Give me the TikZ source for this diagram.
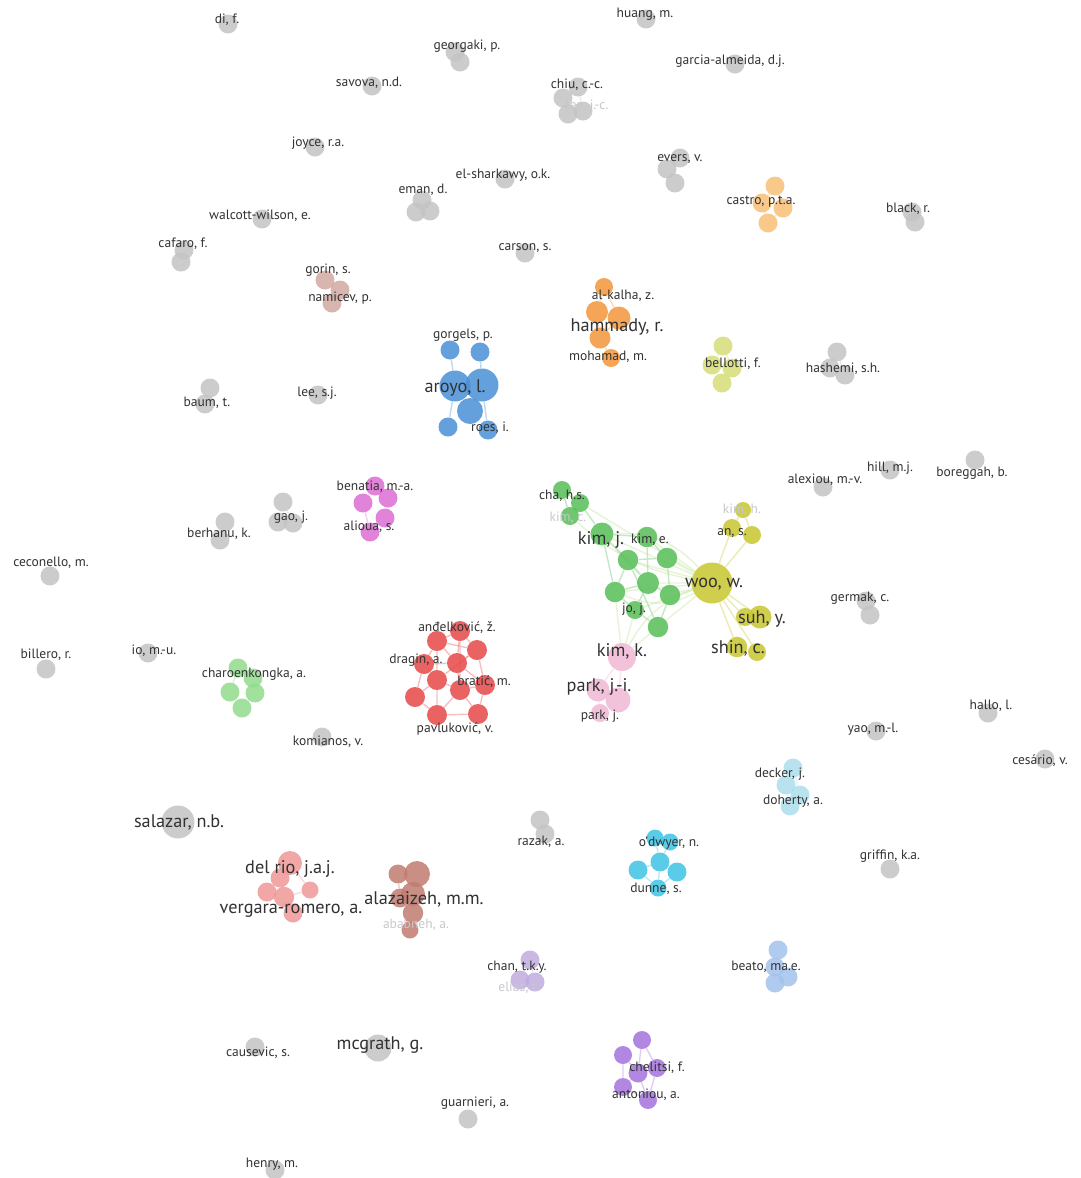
\documentclass[tikz,border=0pt]{standalone}
\usepackage{fontspec}
\setmainfont{PT Sans}
\usepackage{tikz}
\usetikzlibrary{backgrounds}
\definecolor{NodeGray}{RGB}{196,196,196}
\definecolor{LabelDark}{RGB}{50,50,50}
\definecolor{LabelFaint}{RGB}{200,200,205}
\definecolor{ArBlue}{RGB}{74,144,214}
\definecolor{HaOrange}{RGB}{244,150,58}
\definecolor{CaOrange}{RGB}{248,192,120}
\definecolor{KiGreen}{RGB}{86,190,86}
\definecolor{WoYellow}{RGB}{200,198,46}
\definecolor{BeYellow}{RGB}{214,222,120}
\definecolor{KkPink}{RGB}{240,184,212}
\definecolor{AnRed}{RGB}{230,72,72}
\definecolor{BnMagenta}{RGB}{222,110,212}
\definecolor{ChGreen}{RGB}{146,220,140}
\definecolor{DrSalmon}{RGB}{240,152,152}
\definecolor{AlBrown}{RGB}{192,124,112}
\definecolor{OdCyan}{RGB}{62,196,228}
\definecolor{DeCyan}{RGB}{172,222,236}
\definecolor{CtPurple}{RGB}{192,172,222}
\definecolor{CeViolet}{RGB}{164,114,222}
\definecolor{BaBlue}{RGB}{164,194,236}
\definecolor{GoRose}{RGB}{210,170,162}
\definecolor{LinkGreen}{RGB}{186,226,140}
\tikzset{
  bub/.style={circle,inner sep=0pt,minimum size=3.8mm,draw=none,fill opacity=0.85},
  graybub/.style={bub,fill=NodeGray},
  dia/.style={minimum size=#1},
  lab/.style={inner sep=0pt,text=LabelDark,font=\fontsize{7.7}{9}\selectfont},
  biglab/.style={lab,font=\fontsize{10.4}{12}\selectfont},
  faintlab/.style={lab,text=LabelFaint},
  link/.style={line width=0.8pt,draw opacity=0.35}
}
\begin{document}
\begin{tikzpicture}[x=0.02cm,y=-0.02cm]
\useasboundingbox (0,0) rectangle (1080,1178);
% gray single authors
\node[graybub] (dif) at (228,24) {};
\node[graybub] (hua) at (646,19) {};
\node[graybub] (geo1) at (455,52) {};
\node[graybub] (geo2) at (460,62) {};
\node[graybub] (gar) at (735,64) {};
\node[graybub] (sav) at (372,86) {};
\node[graybub] (chi1) at (578,87) {};
\node[graybub] (chi2) at (563,98) {};
\node[graybub] (chi3) at (568,114) {};
\node[graybub] (chi4) at (583,111) {};
\node[graybub] (joy) at (315,147) {};
\node[graybub] (eve1) at (680,158) {};
\node[graybub] (eve2) at (667,169) {};
\node[graybub] (eve3) at (675,183) {};
\node[graybub] (els) at (505,179) {};
\node[graybub] (ema1) at (422,200) {};
\node[graybub] (ema2) at (416,212) {};
\node[graybub] (ema3) at (430,211) {};
\node[graybub] (bla1) at (912,212) {};
\node[graybub] (bla2) at (915,222) {};
\node[graybub] (wal) at (262,219) {};
\node[graybub] (caf1) at (184,250) {};
\node[graybub] (caf2) at (181,262) {};
\node[graybub] (car) at (525,253) {};
\node[graybub] (lee) at (318,395) {};
\node[graybub] (bau1) at (210,388) {};
\node[graybub] (bau2) at (205,404) {};
\node[graybub] (has1) at (837,352) {};
\node[graybub] (has2) at (830,368) {};
\node[graybub] (has3) at (845,375) {};
\node[graybub] (ale) at (823,487) {};
\node[graybub] (hil) at (890,470) {};
\node[graybub] (bor) at (975,460) {};
\node[graybub] (gao1) at (283,502) {};
\node[graybub] (gao2) at (278,522) {};
\node[graybub] (gao3) at (293,523) {};
\node[graybub] (ber1) at (225,522) {};
\node[graybub] (ber2) at (220,540) {};
\node[graybub] (cec) at (50,576) {};
\node[graybub] (iom) at (148,653) {};
\node[graybub] (bil) at (46,669) {};
\node[graybub] (ger1) at (866,601) {};
\node[graybub] (ger2) at (870,615) {};
\node[graybub] (kom) at (322,737) {};
\node[graybub] (hal) at (988,713) {};
\node[graybub] (yao) at (876,731) {};
\node[graybub] (ces) at (1045,759) {};
\node[graybub,dia=6.6mm] (sal) at (178,822) {};
\node[graybub] (raz1) at (540,820) {};
\node[graybub] (raz2) at (545,834) {};
\node[graybub] (gri) at (890,869) {};
\node[graybub] (cau) at (255,1047) {};
\node[graybub,dia=5.4mm] (mcg) at (378,1048) {};
\node[graybub] (gua) at (468,1119) {};
\node[graybub] (hen) at (275,1170) {};
% small coloured groups
\node[bub,fill=GoRose] (gor1) at (325,280) {};
\node[bub,fill=GoRose] (gor2) at (340,290) {};
\node[bub,fill=GoRose] (gor3) at (332,303) {};
\node[bub,fill=CaOrange] (cas1) at (775,186) {};
\node[bub,fill=CaOrange] (cas2) at (762,203) {};
\node[bub,fill=CaOrange] (cas3) at (783,208) {};
\node[bub,fill=CaOrange] (cas4) at (768,223) {};
\node[bub,fill=BeYellow] (bel1) at (723,346) {};
\node[bub,fill=BeYellow] (bel2) at (712,365) {};
\node[bub,fill=BeYellow] (bel3) at (732,368) {};
\node[bub,fill=BeYellow] (bel4) at (722,383) {};
\node[bub,fill=BnMagenta] (ben1) at (375,486) {};
\node[bub,fill=BnMagenta] (ben2) at (363,503) {};
\node[bub,fill=BnMagenta] (ben3) at (388,498) {};
\node[bub,fill=BnMagenta] (ben4) at (385,518) {};
\node[bub,fill=BnMagenta] (ben5) at (370,532) {};
\node[bub,fill=ChGreen] (cha1) at (238,668) {};
\node[bub,fill=ChGreen] (cha2) at (253,678) {};
\node[bub,fill=ChGreen] (cha3) at (230,692) {};
\node[bub,fill=ChGreen] (cha4) at (255,693) {};
\node[bub,fill=ChGreen] (cha5) at (242,708) {};
\node[bub,fill=DeCyan] (dec1) at (793,768) {};
\node[bub,fill=DeCyan] (dec2) at (786,785) {};
\node[bub,fill=DeCyan] (dec3) at (800,795) {};
\node[bub,fill=DeCyan] (dec4) at (790,806) {};
\node[bub,fill=CtPurple] (ctk1) at (530,960) {};
\node[bub,fill=CtPurple] (ctk2) at (520,980) {};
\node[bub,fill=CtPurple] (ctk3) at (535,982) {};
\node[bub,fill=BaBlue] (bea1) at (778,950) {};
\node[bub,fill=BaBlue] (bea2) at (775,967) {};
\node[bub,fill=BaBlue] (bea3) at (788,977) {};
\node[bub,fill=BaBlue] (bea4) at (775,983) {};
% aroyo group
\node[bub,fill=ArBlue,dia=3.8mm] (aro1) at (450,350) {};
\node[bub,fill=ArBlue,dia=3.8mm] (aro2) at (480,352) {};
\node[bub,fill=ArBlue,dia=6.2mm] (aro3) at (455,386) {};
\node[bub,fill=ArBlue,dia=6.6mm] (aro4) at (482,385) {};
\node[bub,fill=ArBlue,dia=5.2mm] (aro5) at (470,411) {};
\node[bub,fill=ArBlue,dia=3.8mm] (aro6) at (448,427) {};
\node[bub,fill=ArBlue,dia=3.8mm] (aro7) at (488,430) {};
% hammady group
\node[bub,fill=HaOrange,dia=3.6mm] (ham1) at (604,287) {};
\node[bub,fill=HaOrange,dia=4.4mm] (ham2) at (597,312) {};
\node[bub,fill=HaOrange,dia=4.6mm] (ham3) at (619,318) {};
\node[bub,fill=HaOrange,dia=4.2mm] (ham4) at (600,338) {};
\node[bub,fill=HaOrange,dia=3.6mm] (ham5) at (611,358) {};
% kim / woo groups
\node[bub,fill=KiGreen,dia=3.6mm] (gre1) at (562,490) {};
\node[bub,fill=KiGreen,dia=3.6mm] (gre2) at (580,503) {};
\node[bub,fill=KiGreen,dia=3.6mm] (gre3) at (570,516) {};
\node[bub,fill=KiGreen,dia=4.6mm] (gre4) at (602,534) {};
\node[bub,fill=KiGreen,dia=4.1mm] (gre5) at (647,537) {};
\node[bub,fill=KiGreen,dia=4.1mm] (gre6) at (628,560) {};
\node[bub,fill=KiGreen,dia=4.1mm] (gre7) at (667,558) {};
\node[bub,fill=KiGreen,dia=4.4mm] (gre8) at (648,583) {};
\node[bub,fill=KiGreen,dia=4.1mm] (gre9) at (615,592) {};
\node[bub,fill=KiGreen,dia=4.1mm] (gre10) at (670,595) {};
\node[bub,fill=KiGreen,dia=3.6mm] (gre11) at (635,610) {};
\node[bub,fill=KiGreen,dia=4.1mm] (gre12) at (658,627) {};
\node[bub,fill=WoYellow,dia=8.2mm] (woo) at (712,583) {};
\node[bub,fill=WoYellow,dia=3.2mm] (yel1) at (743,510) {};
\node[bub,fill=WoYellow,dia=3.6mm] (yel2) at (732,528) {};
\node[bub,fill=WoYellow,dia=3.6mm] (yel3) at (752,535) {};
\node[bub,fill=WoYellow,dia=4.6mm] (yel4) at (760,617) {};
\node[bub,fill=WoYellow,dia=3.6mm] (yel5) at (745,617) {};
\node[bub,fill=WoYellow,dia=4.1mm] (yel6) at (737,647) {};
\node[bub,fill=WoYellow,dia=3.6mm] (yel7) at (757,652) {};
\node[bub,fill=KkPink,dia=5.6mm] (kik) at (622,657) {};
\node[bub,fill=KkPink,dia=4.6mm] (pin1) at (598,690) {};
\node[bub,fill=KkPink,dia=5mm] (pin2) at (618,700) {};
\node[bub,fill=KkPink,dia=3.6mm] (pin3) at (600,713) {};
% andelkovic group
\node[bub,fill=AnRed,dia=4mm] (red1) at (437,641) {};
\node[bub,fill=AnRed,dia=4mm] (red2) at (460,631) {};
\node[bub,fill=AnRed,dia=4mm] (red3) at (477,650) {};
\node[bub,fill=AnRed,dia=4mm] (red4) at (457,663) {};
\node[bub,fill=AnRed,dia=4mm] (red5) at (437,680) {};
\node[bub,fill=AnRed,dia=4mm] (red6) at (460,690) {};
\node[bub,fill=AnRed,dia=4mm] (red7) at (485,685) {};
\node[bub,fill=AnRed,dia=4mm] (red8) at (415,697) {};
\node[bub,fill=AnRed,dia=4mm] (red9) at (437,715) {};
\node[bub,fill=AnRed,dia=4mm] (red10) at (478,714) {};
\node[bub,fill=AnRed,dia=4mm] (red11) at (424,664) {};
% del rio / alazaizeh groups
\node[bub,fill=DrSalmon,dia=4.8mm] (dri1) at (290,863) {};
\node[bub,fill=DrSalmon,dia=3.8mm] (dri2) at (280,878) {};
\node[bub,fill=DrSalmon,dia=3.8mm] (dri3) at (267,892) {};
\node[bub,fill=DrSalmon,dia=4.1mm] (dri4) at (284,897) {};
\node[bub,fill=DrSalmon,dia=3.4mm] (dri5) at (310,890) {};
\node[bub,fill=DrSalmon,dia=3.8mm] (dri6) at (293,913) {};
\node[bub,fill=AlBrown,dia=3.8mm] (ala1) at (398,874) {};
\node[bub,fill=AlBrown,dia=5.2mm] (ala2) at (417,874) {};
\node[bub,fill=AlBrown,dia=4.8mm] (ala3) at (413,894) {};
\node[bub,fill=AlBrown,dia=3.8mm] (ala4) at (400,898) {};
\node[bub,fill=AlBrown,dia=4.1mm] (ala5) at (413,913) {};
\node[bub,fill=AlBrown,dia=3.4mm] (ala6) at (410,930) {};
% o'dwyer group
\node[bub,fill=OdCyan,dia=3.4mm] (odw1) at (655,838) {};
\node[bub,fill=OdCyan,dia=3.4mm] (odw2) at (670,842) {};
\node[bub,fill=OdCyan,dia=3.8mm] (odw3) at (660,862) {};
\node[bub,fill=OdCyan,dia=3.8mm] (odw4) at (638,870) {};
\node[bub,fill=OdCyan,dia=3.8mm] (odw5) at (677,872) {};
\node[bub,fill=OdCyan,dia=3.4mm] (odw6) at (658,888) {};
% chelitsi group
\node[bub,fill=CeViolet,dia=3.6mm] (che1) at (642,1040) {};
\node[bub,fill=CeViolet,dia=3.6mm] (che2) at (623,1055) {};
\node[bub,fill=CeViolet,dia=3.8mm] (che3) at (638,1073) {};
\node[bub,fill=CeViolet,dia=3.6mm] (che4) at (657,1068) {};
\node[bub,fill=CeViolet,dia=3.6mm] (che5) at (623,1087) {};
\node[bub,fill=CeViolet,dia=3.6mm] (che6) at (648,1100) {};
% links
\begin{scope}[on background layer]
\fill[white] (0,0) rectangle (1080,1178);
\draw[link,NodeGray] (chi1) -- (chi2) -- (chi3) -- (chi4) -- (chi1) (eve1) -- (eve2) -- (eve3) (ema1) -- (ema2) -- (ema3) -- (ema1);
\draw[link,NodeGray] (has1) -- (has2) -- (has3) -- (has1) (gao1) -- (gao2) -- (gao3) -- (gao1) (raz1) -- (raz2);
\draw[link,GoRose] (gor1) -- (gor2) -- (gor3);
\draw[link,CaOrange] (cas1) -- (cas2) -- (cas4) -- (cas3) -- (cas1);
\draw[link,BeYellow] (bel1) -- (bel2) -- (bel4) -- (bel3) -- (bel1);
\draw[link,BnMagenta] (ben1) -- (ben2) -- (ben5) -- (ben4) -- (ben3) -- (ben1);
\draw[link,ChGreen] (cha1) -- (cha2) -- (cha4) -- (cha5) -- (cha3) -- (cha1);
\draw[link,DeCyan] (dec1) -- (dec2) -- (dec4) -- (dec3) -- (dec1);
\draw[link,CtPurple] (ctk1) -- (ctk2) -- (ctk3) -- (ctk1);
\draw[link,BaBlue] (bea1) -- (bea2) -- (bea4) -- (bea3) -- (bea2);
\draw[link,ArBlue] (aro1) -- (aro3) -- (aro6) (aro2) -- (aro4) -- (aro7) (aro3) -- (aro5) -- (aro4) -- (aro3);
\draw[link,HaOrange] (ham1) -- (ham2) -- (ham4) -- (ham5) (ham1) -- (ham3) -- (ham4);
\draw[link,KiGreen] (gre1) -- (gre2) -- (gre3) -- (gre1) (gre2) -- (gre4) -- (gre5) -- (gre7) -- (gre10) -- (gre12) -- (gre11) -- (gre9) -- (gre4);
\draw[link,KiGreen] (gre4) -- (gre6) -- (gre8) -- (gre5) (gre6) -- (gre7) (gre6) -- (gre9) (gre8) -- (gre11) (gre8) -- (gre10) (gre6) -- (gre12) (gre9) -- (gre8) (gre4) -- (gre8);
\draw[link,LinkGreen] (woo) -- (gre4) (woo) -- (gre5) (woo) -- (gre6) (woo) -- (gre7) (woo) -- (gre8) (woo) -- (gre9) (woo) -- (gre10) (woo) -- (gre11) (woo) -- (gre12) (woo) -- (gre2);
\draw[link,LinkGreen] (woo) to[bend left=15] (gre3) (woo) to[bend right=20] (kik) (kik) -- (gre9) (kik) -- (gre11) (kik) -- (gre12) (woo) to[bend left=25] (gre9) (woo) to[bend right=25] (gre4);
\draw[link,WoYellow] (woo) -- (yel2) -- (yel1) -- (yel3) -- (woo) (woo) -- (yel4) -- (yel5) -- (woo) (woo) -- (yel6) -- (yel7) -- (woo);
\draw[link,KkPink] (kik) -- (pin1) -- (pin3) -- (pin2) -- (kik);
\draw[link,AnRed] (red1) -- (red2) -- (red3) -- (red7) -- (red10) -- (red9) -- (red8) -- (red11) -- (red1) (red1) -- (red4) -- (red2) (red3) -- (red4) -- (red6) -- (red5) -- (red1);
\draw[link,AnRed] (red11) -- (red4) (red5) -- (red8) (red5) -- (red9) (red6) -- (red10) (red6) -- (red7) (red4) -- (red7) (red5) -- (red11) (red6) -- (red9) (red1) -- (red3) (red5) -- (red3) (red2) -- (red6);
\draw[link,DrSalmon] (dri1) -- (dri2) -- (dri3) -- (dri4) -- (dri6) (dri2) -- (dri4) -- (dri5) -- (dri1);
\draw[link,AlBrown] (ala1) -- (ala2) -- (ala3) -- (ala4) -- (ala1) (ala3) -- (ala5) -- (ala6) (ala4) -- (ala5);
\draw[link,OdCyan] (odw1) -- (odw3) -- (odw2) (odw4) -- (odw3) -- (odw5) (odw3) -- (odw6) (odw4) -- (odw6) -- (odw5);
\draw[link,CeViolet] (che1) -- (che3) -- (che2) (che3) -- (che4) (che3) -- (che5) (che3) -- (che6) (che2) -- (che5) -- (che6) -- (che4) -- (che1);
\end{scope}
% labels
\node[lab] (ldif) at (227,20) {di, f.};
\node[lab] (lhua) at (645,14) {huang, m.};
\node[lab] (lgeo) at (467,46) {georgaki, p.};
\node[lab] (lgar) at (730,61) {garcia-almeida, d.j.};
\node[lab] (lsav) at (369,83) {savova, n.d.};
\node[lab] (lchi) at (577,85) {chiu, c.-c.};
\node[faintlab] (llee2) at (587,106) {lee, j.-c.};
\node[lab] (ljoy) at (318,143) {joyce, r.a.};
\node[lab] (leve) at (680,159) {evers, v.};
\node[lab] (lels) at (503,175) {el-sharkawy, o.k.};
\node[lab] (lema) at (423,190) {eman, d.};
\node[lab] (lcas) at (761,202) {castro, p.t.a.};
\node[lab] (lbla) at (908,209) {black, r.};
\node[lab] (lwal) at (260,216) {walcott-wilson, e.};
\node[lab] (lcaf) at (183,244) {cafaro, f.};
\node[lab] (lcar) at (525,248) {carson, s.};
\node[lab] (lgor) at (328,270) {gorin, s.};
\node[lab] (lnam) at (340,298) {namicev, p.};
\node[lab] (lalk) at (623,296) {al-kalha, z.};
\node[biglab] (lham) at (617,327) {hammady, r.};
\node[lab] (lmoh) at (608,357) {mohamad, m.};
\node[lab] (lgog) at (463,335) {gorgels, p.};
\node[biglab] (laro) at (455,388) {aroyo, l.};
\node[lab] (lroe) at (490,428) {roes, i.};
\node[lab] (lbel) at (733,364) {bellotti, f.};
\node[lab] (lhas) at (843,369) {hashemi, s.h.};
\node[lab] (llee) at (317,393) {lee, s.j.};
\node[lab] (lbau) at (207,403) {baum, t.};
\node[lab] (lale) at (825,480) {alexiou, m.-v.};
\node[lab] (lhil) at (890,468) {hill, m.j.};
\node[lab] (lbor) at (972,473) {boreggah, b.};
\node[lab] (lben) at (375,487) {benatia, m.-a.};
\node[lab] (lali) at (369,527) {alioua, s.};
\node[lab] (lgao) at (291,517) {gao, j.};
\node[lab] (lber) at (219,534) {berhanu, k.};
\node[lab] (lcec) at (51,563) {ceconello, m.};
\node[lab] (lchs) at (562,496) {cha, h.s.};
\node[faintlab] (lkic) at (568,518) {kim, c.};
\node[biglab] (lkij) at (601,540) {kim, j.};
\node[lab] (lkie) at (650,540) {kim, e.};
\node[lab] (ljoj) at (634,609) {jo, j.};
\node[faintlab] (lkih) at (742,510) {kim, h.};
\node[lab] (lans) at (732,533) {an, s.};
\node[biglab] (lwoo) at (714,584) {woo, w.};
\node[biglab] (lsuh) at (762,619) {suh, y.};
\node[biglab] (lshi) at (738,648) {shin, c.};
\node[biglab] (lkik) at (622,651) {kim, k.};
\node[biglab] (lpji) at (599,687) {park, j.-i.};
\node[lab] (lpaj) at (600,716) {park, j.};
\node[lab] (lgrm) at (860,598) {germak, c.};
\node[lab] (liom) at (154,651) {io, m.-u.};
\node[lab] (lbil) at (46,655) {billero, r.};
\node[lab] (lcha) at (254,674) {charoenkongka, a.};
\node[lab] (land) at (457,628) {anđelković, ž.};
\node[lab] (ldra) at (416,660) {dragin, a.};
\node[lab] (lbra) at (484,682) {bratić, m.};
\node[lab] (lpav) at (455,729) {pavluković, v.};
\node[lab] (lkom) at (328,742) {komianos, v.};
\node[lab] (lhal) at (991,706) {hallo, l.};
\node[lab] (lyao) at (873,729) {yao, m.-l.};
\node[lab] (lces) at (1040,761) {cesário, v.};
\node[lab] (ldec) at (780,774) {decker, j.};
\node[lab] (ldoh) at (793,801) {doherty, a.};
\node[biglab] (lsal) at (179,822) {salazar, n.b.};
\node[lab] (lraz) at (541,842) {razak, a.};
\node[lab] (lodw) at (669,843) {o'dwyer, n.};
\node[lab] (ldun) at (656,889) {dunne, s.};
\node[lab] (lgri) at (890,856) {griffin, k.a.};
\node[biglab] (ldri) at (290,869) {del rio, j.a.j.};
\node[biglab] (lver) at (291,911) {vergara-romero, a.};
\node[biglab] (lala) at (424,899) {alazaizeh, m.m.};
\node[faintlab] (laba) at (416,925) {ababneh, a.};
\node[lab] (lctk) at (517,967) {chan, t.k.y.};
\node[faintlab] (leli) at (519,988) {elias, t.};
\node[lab] (lbea) at (766,967) {beato, ma.e.};
\node[lab] (lcau) at (258,1053) {causevic, s.};
\node[biglab] (lmcg) at (380,1045) {mcgrath, g.};
\node[lab] (lche) at (657,1068) {chelitsi, f.};
\node[lab] (lant) at (646,1095) {antoniou, a.};
\node[lab] (lgua) at (475,1103) {guarnieri, a.};
\node[lab] (lhen) at (272,1164) {henry, m.};
\end{tikzpicture}
\end{document}
